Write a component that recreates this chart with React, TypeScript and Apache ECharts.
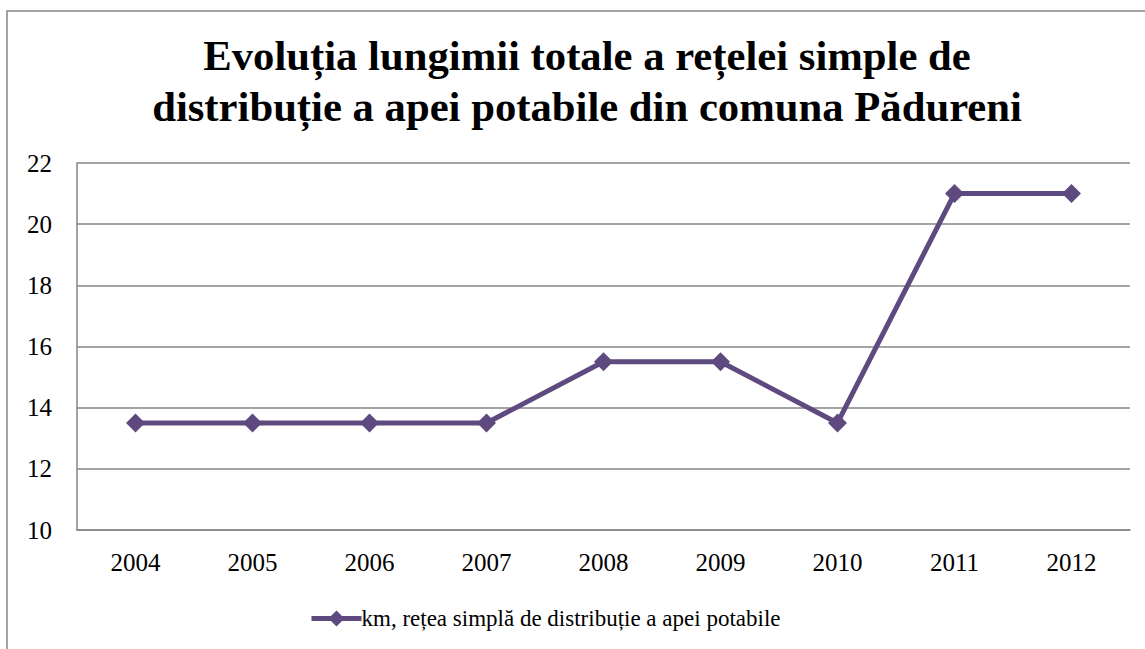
import React, { useEffect, useRef } from "react";
import * as echarts from "echarts";

const titleText = "Evoluția lungimii totale a rețelei simple de\ndistribuție a apei potabile din comuna Pădureni";
const seriesName = "km, rețea simplă de distribuție a apei potabile";
const years = ["2004", "2005", "2006", "2007", "2008", "2009", "2010", "2011", "2012"];
const values = [13.5, 13.5, 13.5, 13.5, 15.5, 15.5, 13.5, 21, 21];
const yMin = 10;
const yMax = 22;
const yInterval = 2;

const FONT = "Times New Roman";
const GRAY = "#868686";
const PURPLE = "#5F4A7F";

export default function App() {
  const ref = useRef<HTMLDivElement>(null);
  useEffect(() => {
    if (!ref.current) return;
    const chart = echarts.init(ref.current, undefined, { renderer: "svg" });
    chart.setOption({
      animation: false,
      backgroundColor: "#ffffff",
      graphic: [
        {
          type: "rect",
          shape: { x: 7, y: 11, width: 1300, height: 800 },
          style: { fill: "none", stroke: GRAY, lineWidth: 1.5 },
          z: 100,
        },
      ],
      title: {
        text: titleText,
        left: 582,
        textAlign: "center",
        top: 25,
        textStyle: {
          fontFamily: FONT,
          fontWeight: "bold",
          fontSize: 42.7,
          lineHeight: 51,
          color: "#000",
        },
      },
      legend: {
        bottom: 14,
        left: 304,
        itemWidth: 50,
        itemHeight: 20,
        itemGap: 0,
        lineStyle: { width: 5 },
        textStyle: { fontFamily: FONT, fontSize: 23, color: "#000", padding: [0, 0, 0, -5] },
        data: [{ name: seriesName }],
      },
      grid: { left: 77, right: 15, top: 163, bottom: 119 },
      xAxis: {
        type: "category",
        data: years,
        boundaryGap: true,
        axisLine: { lineStyle: { color: GRAY, width: 1.5 } },
        axisTick: { show: false },
        axisLabel: { fontFamily: FONT, fontSize: 25, color: "#000", margin: 20 },
      },
      yAxis: {
        type: "value",
        min: yMin,
        max: yMax,
        interval: yInterval,
        axisLine: { show: true, lineStyle: { color: GRAY, width: 1.5 } },
        axisTick: { show: false },
        splitLine: { lineStyle: { color: GRAY, width: 1.5 } },
        axisLabel: { fontFamily: FONT, fontSize: 25, color: "#000", margin: 25 },
      },
      series: [
        {
          name: seriesName,
          type: "line",
          data: values,
          symbol: "diamond",
          symbolSize: 19,
          lineStyle: { color: PURPLE, width: 5 },
          itemStyle: { color: PURPLE },
        },
      ],
    });
    return () => chart.dispose();
  }, []);
  return (
    <div
      ref={ref}
      style={{ position: "fixed", left: 0, top: 0, width: 1145, height: 649 }}
    />
  );
}
